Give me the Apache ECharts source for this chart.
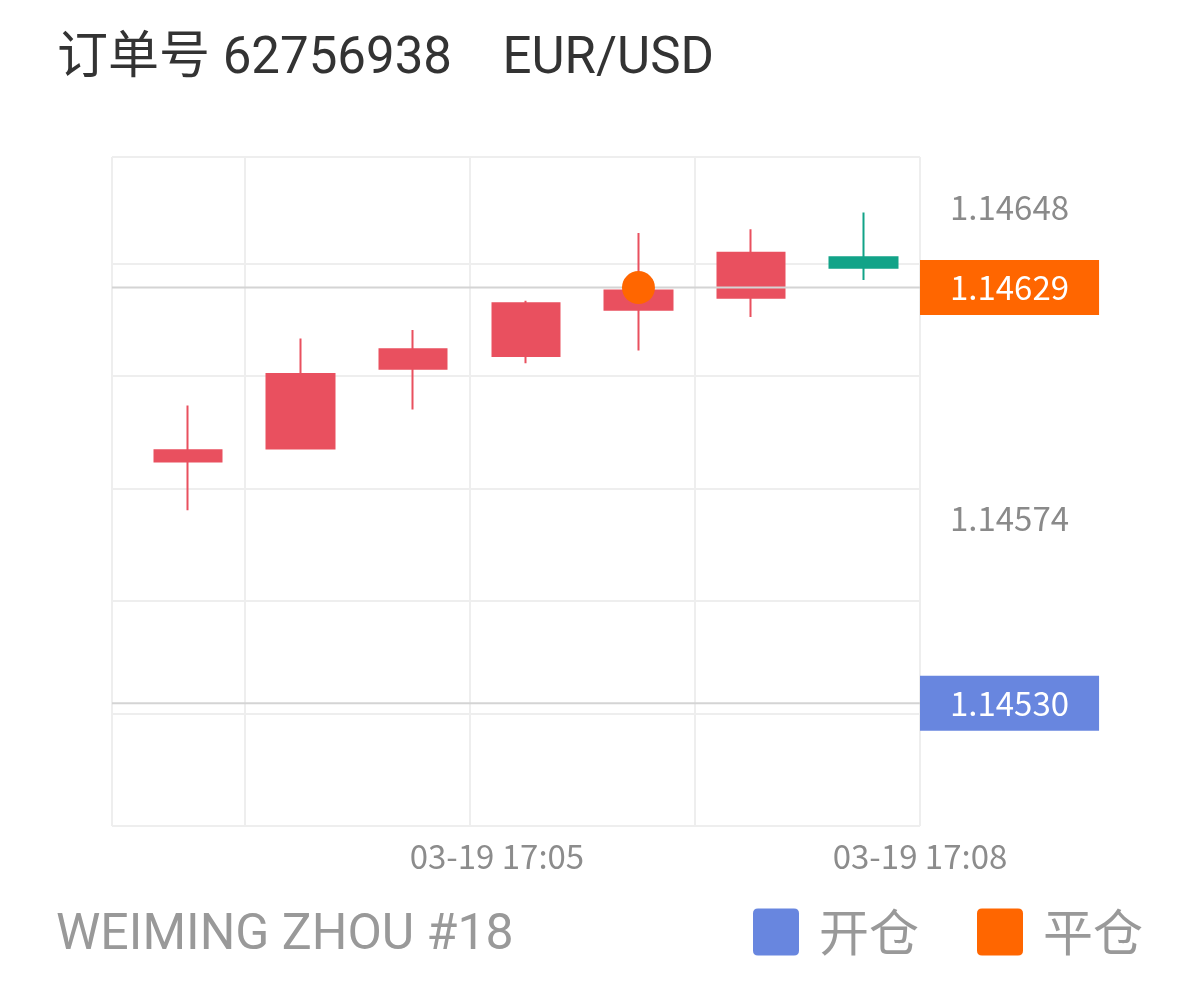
<!DOCTYPE html>
<html>
<head>
<meta charset="utf-8">
<script src="https://cdn.jsdelivr.net/npm/echarts@6/dist/echarts.min.js"></script>
<style>
  html, body { margin: 0; padding: 0; background: #fff; }
  #chart { width: 1198px; height: 990px; }
</style>
</head>
<body>
<div id="chart"></div>
<script>
// ---- data ----
const titleText = '订单号 62756938    EUR/USD';
const footerText = 'WEIMING ZHOU #18';
const legendNames = ['开仓', '平仓'];

// candle slots (x position on the index axis)
const candleX = [0, 1, 2, 3, 4, 5, 6];
const opens  = [1.145876, 1.145907, 1.146097, 1.146127, 1.146237, 1.146266, 1.146362];
const closes = [1.145903, 1.146084, 1.146143, 1.146253, 1.146283, 1.146373, 1.146337];
const lows   = [1.145760, 1.145907, 1.146000, 1.146110, 1.146140, 1.146220, 1.146308];
const highs  = [1.146009, 1.146169, 1.146189, 1.146259, 1.146420, 1.146429, 1.146469];

const openPrice = 1.14530;   // 开仓
const closePrice = 1.14629;  // 平仓
const closePointX = 4;       // candle where position closed

// y axis
const yMin = 1.145008, yMax = 1.146601;
const yGridValues = [1.145008, 1.145276, 1.145544, 1.145812, 1.146080, 1.146348, 1.146601];
const yLabelValues = [1.14648, 1.14629, 1.14574, 1.14530];

// x axis
const xMin = -0.675, xMax = 6.5;
const xGridValues = [-0.675, 0.5, 2.5, 4.5, 6.5];
const xLabelValues = [2.743, 6.5];
const xLabelTexts = ['03-19 17:05', '03-19 17:08'];

// ---- colors ----
const RED = '#E9505F', GREEN = '#12A388', BLUE = '#6886DF', ORANGE = '#FF6600';
const GRID = '#eeeeee', REF = '#d4d4d4';
const CJK = '"Noto Sans CJK SC", sans-serif';
const LATIN = 'Roboto, "Noto Sans CJK SC", sans-serif';

const candleData = candleX.map((x, i) => [x, opens[i], closes[i], lows[i], highs[i]]);
const legendIcon = 'path://M5,0 H41 Q46,0 46,5 V42 Q46,47 41,47 H5 Q0,47 0,42 V5 Q0,0 5,0 Z';

// horizontal price reference line across the whole x range
function priceLine(name, price) {
  return {
    type: 'line', name: name, z: 5, silent: true,
    data: [[xMin, price], [xMax, price]],
    showSymbol: false, symbol: 'none',
    lineStyle: { color: REF, width: 2, type: 'solid' },
    itemStyle: { color: REF }
  };
}

const chart = echarts.init(document.getElementById('chart'), null, { renderer: 'canvas' });
chart.setOption({
  animation: false,
  backgroundColor: '#fff',
  textStyle: { fontFamily: CJK },
  title: [
    { text: titleText, left: 52, top: 30,
      textStyle: { fontSize: 51, color: '#333', fontWeight: 'normal', fontFamily: LATIN } },
    { text: footerText, left: 51, top: 906,
      textStyle: { fontSize: 50, color: '#999', fontWeight: 'normal', fontFamily: LATIN } }
  ],
  legend: {
    data: legendNames, right: 50, top: 902,
    itemWidth: 46, itemHeight: 47, itemGap: 58, icon: legendIcon,
    textStyle: { fontSize: 50, color: '#999', fontFamily: CJK, padding: [0, 0, 0, 15] }
  },
  grid: { left: 112, right: 278, top: 157, bottom: 164 },
  xAxis: {
    type: 'value', min: xMin, max: xMax,
    axisLine: { show: false },
    axisTick: { show: false, customValues: xGridValues },
    splitLine: { show: true, lineStyle: { color: GRID, width: 2 } },
    axisLabel: {
      customValues: xLabelValues, margin: 14,
      fontSize: 33, color: '#8c8c8c', fontFamily: CJK,
      formatter: v => {
        let best = 0;
        xLabelValues.forEach((p, i) => { if (Math.abs(p - v) < Math.abs(xLabelValues[best] - v)) best = i; });
        return xLabelTexts[best];
      }
    }
  },
  yAxis: {
    type: 'value', position: 'right', min: yMin, max: yMax, scale: true,
    axisLine: { show: false },
    axisTick: { show: false, customValues: yGridValues },
    splitLine: { show: true, lineStyle: { color: GRID, width: 2 } },
    axisLabel: {
      customValues: yLabelValues, margin: 0, align: 'left',
      formatter: v => {
        const s = v.toFixed(5);
        if (Math.abs(v - openPrice) < 1e-7) return '{o|' + s + '}';
        if (Math.abs(v - closePrice) < 1e-7) return '{c|' + s + '}';
        return '{p|' + s + '}';
      },
      rich: {
        p: { fontSize: 33, color: '#8a8a8a', fontFamily: CJK, padding: [0, 30, 0, 30] },
        o: { fontSize: 33, color: '#fff', fontFamily: CJK, backgroundColor: BLUE, lineHeight: 34, padding: [11, 30, 11, 30] },
        c: { fontSize: 33, color: '#fff', fontFamily: CJK, backgroundColor: ORANGE, lineHeight: 34, padding: [11, 30, 11, 30] }
      }
    }
  },
  series: [
    {
      type: 'candlestick', name: 'EUR/USD',
      data: candleData, barWidth: 68, z: 2,
      itemStyle: { color: RED, color0: GREEN, borderColor: RED, borderColor0: GREEN, borderWidth: 2 }
    },
    priceLine('openLine', openPrice),
    priceLine('closeLine', closePrice),
    {
      type: 'scatter', name: legendNames[0], data: [],
      itemStyle: { color: BLUE, opacity: 1 }
    },
    {
      type: 'scatter', name: legendNames[1], z: 10,
      data: [[closePointX, closePrice]], symbolSize: 33,
      itemStyle: { color: ORANGE, opacity: 1 }
    }
  ]
});
</script>
</body>
</html>
